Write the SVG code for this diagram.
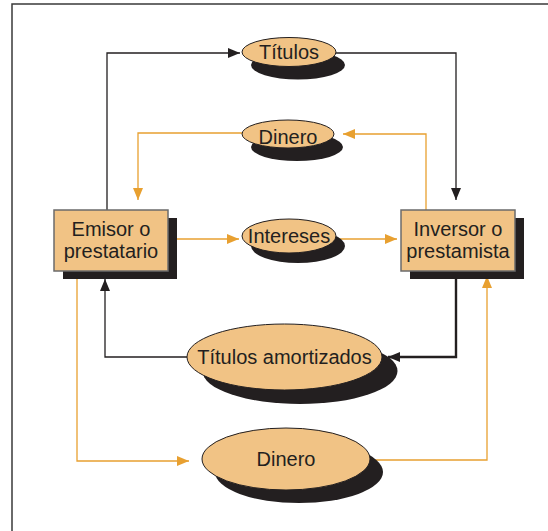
<svg xmlns="http://www.w3.org/2000/svg" width="548" height="531" viewBox="0 0 548 531">
  <style>
    .frame { fill: none; stroke: #3a3a3a; stroke-width: 1.5; }
    .box { fill: #F1C385; stroke: #6b6b6b; stroke-width: 1.5; }
    .oval { fill: #F1C385; stroke: #231F20; stroke-width: 1; }
    .shadow { fill: #231F20; }
    .label { font-family: "Liberation Sans", Arial, sans-serif; font-size: 20px; fill: #231F20; text-anchor: middle; }
    .dark { fill: none; stroke: #231F20; stroke-width: 1.3; }
    .dark-thick { fill: none; stroke: #231F20; stroke-width: 2.4; }
    .gold { fill: none; stroke: #E8A030; stroke-width: 1.3; }
  </style>
  <defs>
    <marker id="arrow-dark" markerUnits="userSpaceOnUse" viewBox="0 0 12 10" refX="12" refY="5" markerWidth="12" markerHeight="10" orient="auto">
      <path d="M0,0 L12,5 L0,10 Z" fill="#231F20"/>
    </marker>
    <marker id="arrow-gold" markerUnits="userSpaceOnUse" viewBox="0 0 12 10" refX="12" refY="5" markerWidth="12" markerHeight="10" orient="auto">
      <path d="M0,0 L12,5 L0,10 Z" fill="#E8A030"/>
    </marker>
  </defs>

  <!-- outer frame -->
  <path class="frame" d="M12,531 L12,4 L548,4"/>

  <!-- connectors -->
  <g id="connectors">
    <path class="dark" d="M107,210 L107,53 L240,53" marker-end="url(#arrow-dark)"/>
    <path class="dark" d="M336,53 L456,53 L456,200" marker-end="url(#arrow-dark)"/>
    <path class="gold" d="M426,210 L426,134 L343,134" marker-end="url(#arrow-gold)"/>
    <path class="gold" d="M242,133 L138,133 L138,200" marker-end="url(#arrow-gold)"/>
    <path class="gold" d="M168,239 L239,239" marker-end="url(#arrow-gold)"/>
    <path class="gold" d="M337,239 L397,239" marker-end="url(#arrow-gold)"/>
    <path class="dark-thick" d="M456,279 L456,357 L388,357" marker-end="url(#arrow-dark)"/>
    <path class="dark" d="M187,357 L105,357 L105,279" marker-end="url(#arrow-dark)"/>
    <path class="gold" d="M77,271 L77,461 L189,461" marker-end="url(#arrow-gold)"/>
    <path class="gold" d="M370,460 L487,460 L487,276" marker-end="url(#arrow-gold)"/>
  </g>

  <!-- nodes -->
  <g id="emisor">
    <rect class="shadow" x="63" y="218" width="114" height="61"/>
    <rect class="box" x="54" y="210" width="114" height="61"/>
    <text class="label" x="111" y="236">Emisor o</text>
    <text class="label" x="111" y="258">prestatario</text>
  </g>

  <g id="inversor">
    <rect class="shadow" x="410" y="218" width="114" height="61"/>
    <rect class="box" x="401" y="210" width="114" height="61"/>
    <text class="label" x="458" y="236">Inversor o</text>
    <text class="label" x="458" y="258">prestamista</text>
  </g>

  <g id="titulos">
    <ellipse class="shadow" cx="298" cy="65" rx="47" ry="14.5"/>
    <ellipse class="oval" cx="289" cy="52" rx="47" ry="14.5"/>
    <text class="label" x="289" y="59">Títulos</text>
  </g>

  <g id="dinero-arriba">
    <ellipse class="shadow" cx="297" cy="147" rx="46" ry="14"/>
    <ellipse class="oval" cx="288" cy="134" rx="46" ry="14"/>
    <text class="label" x="288" y="144">Dinero</text>
  </g>

  <g id="intereses">
    <ellipse class="shadow" cx="298" cy="246" rx="47" ry="17"/>
    <ellipse class="oval" cx="289" cy="236" rx="47" ry="17"/>
    <text class="label" x="289" y="243">Intereses</text>
  </g>

  <g id="titulos-amortizados">
    <ellipse class="shadow" cx="300" cy="371" rx="97.5" ry="33"/>
    <ellipse class="oval" cx="284.5" cy="357" rx="97.5" ry="33"/>
    <text class="label" x="284.5" y="364">Títulos amortizados</text>
  </g>

  <g id="dinero-abajo">
    <ellipse class="shadow" cx="299" cy="472" rx="84" ry="31"/>
    <ellipse class="oval" cx="286" cy="459" rx="84" ry="31"/>
    <text class="label" x="286" y="466">Dinero</text>
  </g>
</svg>
